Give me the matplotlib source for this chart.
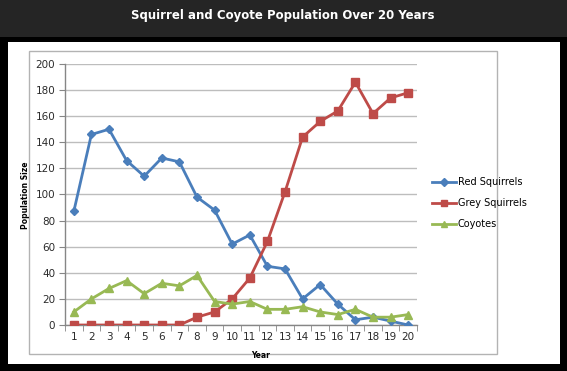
import matplotlib
matplotlib.use("Agg")
import matplotlib.pyplot as plt
from matplotlib.patches import Rectangle

years = list(range(1, 21))
red_squirrels = [87, 146, 150, 126, 114, 128, 125, 98, 88, 62, 69, 45, 43, 20, 31, 16, 4, 6, 3, 0]
grey_squirrels = [0, 0, 0, 0, 0, 0, 0, 6, 10, 20, 36, 64, 102, 144, 156, 164, 186, 162, 174, 178]
coyotes = [10, 20, 28, 34, 24, 32, 30, 38, 18, 16, 18, 12, 12, 14, 10, 8, 12, 6, 6, 8]
y_ticks = list(range(0, 201, 20))

W, H = 567, 371
fig = plt.figure(figsize=(W / 100, H / 100), dpi=100, facecolor="#252525")

def px_rect(x0, y0, x1, y1, **kw):
    r = Rectangle((x0 / W, 1 - y1 / H), (x1 - x0) / W, (y1 - y0) / H,
                  transform=fig.transFigure, zorder=-10, **kw)
    fig.patches.append(r)

px_rect(0, 37, W, H, facecolor="#000000", edgecolor="none")
px_rect(8, 42, 560, 364, facecolor="#ffffff", edgecolor="none")
px_rect(29, 51, 497, 354, facecolor="none", edgecolor="#b3b3b3", linewidth=1)

fig.text(283 / W, 1 - 15 / H, "Squirrel and Coyote Population Over 20 Years",
         color="white", fontsize=8.5, fontweight="bold", ha="center", va="center",
         family="DejaVu Sans")

ax = fig.add_axes([65 / W, 1 - 325 / H, (417 - 65) / W, 261 / H])
ax.set_facecolor("none")
ax.set_zorder(5)

blue, red, green = "#4a7ebb", "#be4b48", "#98b954"
ax.plot(years, red_squirrels, color=blue, lw=2, marker="D", ms=4.5, label="Red Squirrels", zorder=3)
ax.plot(years, grey_squirrels, color=red, lw=2, marker="s", ms=6, label="Grey Squirrels", zorder=3)
ax.plot(years, coyotes, color=green, lw=2, marker="^", ms=6, label="Coyotes", zorder=3)

ax.set_xlim(0.5, 20.5)
ax.set_ylim(0, 200)
ax.set_yticks(y_ticks)
ax.set_xticks(years)
ax.set_xticks([y + 0.5 for y in [0] + years], minor=True)
ax.grid(axis="y", color="#bdbdbd", lw=1)
ax.set_axisbelow(True)
for s in ["top", "right"]:
    ax.spines[s].set_visible(False)
for s in ["left", "bottom"]:
    ax.spines[s].set_color("#868686")
    ax.spines[s].set_linewidth(1)
ax.tick_params(axis="x", which="major", length=0, pad=5, labelsize=7.5, labelcolor="#2b2b2b")
ax.tick_params(axis="x", which="minor", length=4, color="#868686", direction="out")
ax.tick_params(axis="y", length=4, color="#868686", direction="out", labelsize=7.5,
               labelcolor="#2b2b2b", pad=3)

fig.text(25 / W, 1 - 195 / H, "Population Size", rotation=90, fontsize=5.5,
         fontweight="bold", ha="center", va="center", color="black")
fig.text(261 / W, 1 - 356 / H, "Year", fontsize=5.5, fontweight="bold",
         ha="center", va="center", color="black")

ax.legend(loc="upper left", bbox_to_anchor=(432 / W, 1 - 177 / H), bbox_transform=fig.transFigure,
          frameon=False, fontsize=7, handlelength=2.5, handletextpad=0.15,
          labelspacing=1.15, borderaxespad=0, borderpad=0, markerscale=0.8)

fig.savefig("out.png", dpi=100, facecolor=fig.get_facecolor())
